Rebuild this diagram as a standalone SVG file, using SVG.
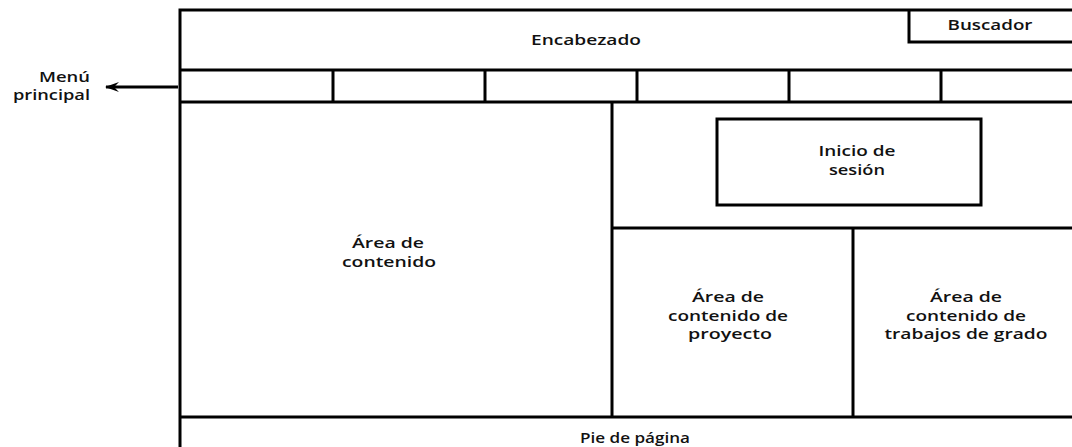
<svg xmlns="http://www.w3.org/2000/svg" width="1072" height="447" viewBox="0 0 1072 447">
<defs>
<style>
.ln{stroke:#000;stroke-width:3;fill:none}
.box{stroke:#000;stroke-width:3;fill:#fff}
.t{font-family:"Open Sans","Liberation Sans",sans-serif;font-weight:600;font-size:14px;fill:#111;text-anchor:middle}
.r{text-anchor:end}
</style>
<marker id="ah" viewBox="0 0 14 12" refX="13" refY="6" markerWidth="14" markerHeight="12" markerUnits="userSpaceOnUse" orient="auto">
<path d="M0,1 L14,6 L0,11 L5,6 Z" fill="#000"/>
</marker>
</defs>
<rect width="1072" height="447" fill="#fff"/>
<g id="frame">
<path class="ln" d="M180,447 V10 H1075"/>
</g>
<g id="encabezado">
<path class="ln" d="M180,70 H1075"/>
<text class="t" x="586" y="45" textLength="110" lengthAdjust="spacingAndGlyphs">Encabezado</text>
</g>
<g id="buscador">
<path class="ln" d="M1075,42 H909 V10"/>
<text class="t" x="990" y="30" textLength="85" lengthAdjust="spacingAndGlyphs">Buscador</text>
</g>
<g id="menu">
<path class="ln" d="M180,102 H1075 M333,70 V102 M485,70 V102 M637,70 V102 M789,70 V102 M941,70 V102"/>
</g>
<g id="contenido">
<path class="ln" d="M612,102 V417"/>
<text class="t" x="388" y="248" textLength="72" lengthAdjust="spacingAndGlyphs">Área de</text>
<text class="t" x="389" y="267" textLength="94" lengthAdjust="spacingAndGlyphs">contenido</text>
</g>
<g id="sesion-area">
<path class="ln" d="M612,228 H1075"/>
</g>
<g id="inicio-sesion">
<rect class="box" x="717" y="119" width="264" height="86"/>
<text class="t" x="857" y="156" textLength="77" lengthAdjust="spacingAndGlyphs">Inicio de</text>
<text class="t" x="857" y="175" textLength="56" lengthAdjust="spacingAndGlyphs">sesión</text>
</g>
<g id="proyecto">
<path class="ln" d="M853,228 V417"/>
<text class="t" x="728" y="302" textLength="72" lengthAdjust="spacingAndGlyphs">Área de</text>
<text class="t" x="728" y="321" textLength="120" lengthAdjust="spacingAndGlyphs">contenido de</text>
<text class="t" x="730" y="339" textLength="84" lengthAdjust="spacingAndGlyphs">proyecto</text>
</g>
<g id="trabajos">
<text class="t" x="966" y="302" textLength="72" lengthAdjust="spacingAndGlyphs">Área de</text>
<text class="t" x="966" y="321" textLength="120" lengthAdjust="spacingAndGlyphs">contenido de</text>
<text class="t" x="966" y="339" textLength="163" lengthAdjust="spacingAndGlyphs">trabajos de grado</text>
</g>
<g id="pie">
<path class="ln" d="M180,417 H1075"/>
<text class="t" x="635" y="443" textLength="110" lengthAdjust="spacingAndGlyphs">Pie de página</text>
</g>
<g id="menu-label">
<text class="t r" x="90" y="82" textLength="51" lengthAdjust="spacingAndGlyphs">Menú</text>
<text class="t r" x="90" y="100" textLength="77" lengthAdjust="spacingAndGlyphs">principal</text>
</g>
<g id="connectors">
<path class="ln" d="M178,87 H106" stroke-width="2.5" marker-end="url(#ah)"/>
</g>
</svg>
